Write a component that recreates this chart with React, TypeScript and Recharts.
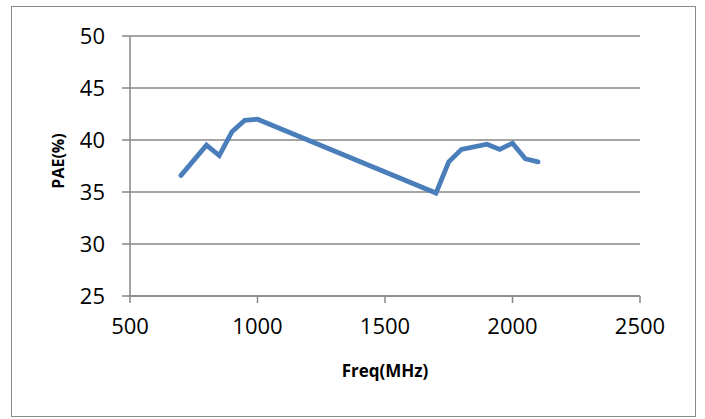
import React from "react"
import { CartesianGrid, Line, LineChart, XAxis, YAxis } from "recharts"

// Frequency sweep (MHz) and measured PAE (%)
const FREQ = [700, 800, 850, 900, 950, 1000, 1700, 1750, 1800, 1900, 1950, 2000, 2050, 2100]
const PAE = [36.6, 39.5, 38.5, 40.8, 41.9, 42.0, 34.9, 37.9, 39.1, 39.6, 39.1, 39.7, 38.2, 37.9]

const X_TICKS = [500, 1000, 1500, 2000, 2500]
const Y_TICKS = [25, 30, 35, 40, 45, 50]

const FONT = "'Open Sans', sans-serif"
const GRID = "#878787"

// rotated y-axis title, centred on the plot height
function YTitle(props: any): React.JSX.Element {
  const vb = props.viewBox || { x: 0, y: 0, width: 0, height: 0 }
  const cx = vb.x - 2
  const cy = vb.y + vb.height / 2 - 5
  return (
    <text
      x={cx}
      y={cy}
      transform={`rotate(-90 ${cx} ${cy})`}
      textAnchor="middle"
      dominantBaseline="central"
      fill="#000"
      fontSize={16}
      fontWeight="bold"
      fontFamily={FONT}
    >
      PAE(%)
    </text>
  )
}

export default function App(): React.JSX.Element {
  const data = FREQ.map((f, i) => ({ freq: f, pae: PAE[i] }))

  return (
    <div style={{ position: "absolute", left: 0, top: 0, width: 705, height: 419, background: "#fff" }}>
      <div
        style={{
          position: "absolute",
          left: 11,
          top: 6,
          width: 683,
          height: 409,
          border: "1.5px solid #8a8a8a",
        }}
      />
      <div style={{ position: "absolute", left: 0, top: 0 }}>
        <LineChart
          width={705}
          height={419}
          data={data}
          margin={{ top: 36, right: 65, left: 60, bottom: 63 }}
          style={{ fontFamily: FONT }}
        >
          <CartesianGrid horizontal vertical={false} stroke={GRID} strokeWidth={1.5} />
          <XAxis
            dataKey="freq"
            type="number"
            domain={[500, 2500]}
            ticks={X_TICKS}
            stroke={GRID}
            strokeWidth={1.5}
            tickSize={7}
            tick={{ fill: "#000", fontSize: 22, dy: 13 }}
            height={60}
            label={{
              value: "Freq(MHz)",
              position: "insideBottom",
              offset: -21,
              fill: "#000",
              fontSize: 17,
              fontWeight: "bold",
            }}
          />
          <YAxis
            type="number"
            domain={[25, 50]}
            ticks={Y_TICKS}
            stroke={GRID}
            strokeWidth={1.5}
            tickSize={8}
            tick={{ fill: "#000", fontSize: 22, dx: -15 }}
            width={70}
            label={(p: any) => <YTitle {...p} />}
          />
          <Line
            dataKey="pae"
            type="linear"
            stroke="#4a7ebb"
            strokeWidth={4.8}
            strokeLinecap="round"
            dot={false}
            isAnimationActive={false}
          />
        </LineChart>
      </div>
    </div>
  )
}
